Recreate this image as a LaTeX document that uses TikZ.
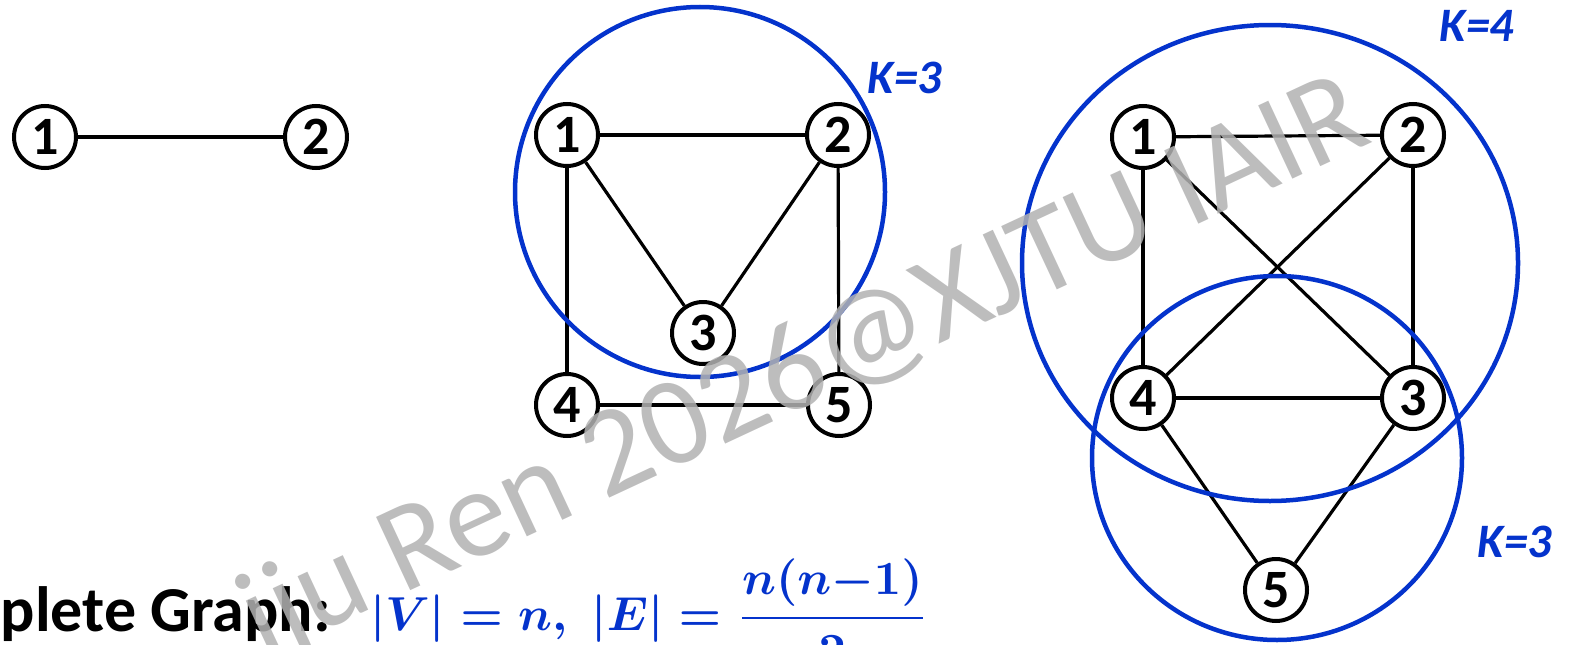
\documentclass[tikz,border=0pt]{standalone}
\usepackage{amsmath,amssymb}
\usepackage{fontspec}
\setmainfont{Carlito}
\usepackage{xcolor}
\usepackage{tikz}
\usetikzlibrary{positioning}
\definecolor{kBlue}{HTML}{0433CC}
\newsavebox{\cgbox}

\begin{document}
\sbox{\cgbox}{\resizebox{558pt}{!}{\color{kBlue}\boldmath$\lvert V\rvert = n,\;\lvert E\rvert = \dfrac{n(n{-}1)}{2}$}}
\begin{tikzpicture}[
  x=1pt, y=-1pt,
  vtx/.style={circle, draw=black, line width=4pt, minimum size=62pt, inner sep=0pt,
              font=\fontsize{54}{60}\selectfont\bfseries},
  edge/.style={draw=black, line width=3.2pt},
  ring/.style={draw=kBlue, line width=4.5pt},
  klab/.style={text=kBlue, font=\fontsize{48}{56}\selectfont\bfseries\itshape},
  node distance=204pt,
]
\useasboundingbox (0,0) rectangle (1569,645);

% two vertices
\node[vtx] (a1) at (45,137) {1};
\node[vtx, right=205pt of a1] (a2) {2};
\draw[edge] (a1) -- (a2);

% five vertices, one triangle
\node[vtx] (b1) at (567,135) {1};
\node[vtx, right=205pt of b1] (b2) {2};
\node[vtx, below=204pt of b1] (b4) {4};
\node[vtx, right=206pt of b4] (b5) {5};
\node[vtx] (b3) at (703,333) {3};
\draw[edge] (b1) -- (b2);
\draw[edge] (b1) -- (b3);
\draw[edge] (b2) -- (b3);
\draw[edge] (b1) -- (b4);
\draw[edge] (b2) -- (b5);
\draw[edge] (b4) -- (b5);
\draw[ring] (700,192) circle [radius=185];
\node[klab] (kb) at (905,78) {K=3};

% five vertices, K4 plus one
\node[vtx] (c1) at (1143,137) {1};
\node[vtx] (c2) at (1413,135) {2};
\node[vtx, below=195pt of c1] (c4) {4};
\node[vtx, right=204pt of c4] (c3) {3};
\node[vtx] (c5) at (1276,590) {5};
\draw[edge] (c1) -- (c2);
\draw[edge] (c1) -- (c4);
\draw[edge] (c2) -- (c3);
\draw[edge] (c1) -- (c3);
\draw[edge] (c2) -- (c4);
\draw[edge] (c4) -- (c3);
\draw[edge] (c4) -- (c5);
\draw[edge] (c3) -- (c5);
\draw[ring] (1270,263) ellipse [x radius=248, y radius=238];
\draw[ring] (1277,458) ellipse [x radius=185, y radius=182];
\node[klab] (kc4) at (1477,26) {K=4};
\node[klab] (kc3) at (1515,542) {K=3};

% caption
\node[anchor=base east, inner sep=0pt, font=\fontsize{64}{70}\selectfont\bfseries] (ttl) at (331,631) {Complete Graph:};
\node[anchor=base west, inner sep=0pt] (fml) at (370,630) {\usebox{\cgbox}};

% watermark
\node[rotate=25, anchor=base east, text=black!30, text opacity=0.85,
      font=\fontsize{126}{134}\selectfont] (wm) at (1378,140) {iju Ren 2026@XJTU IAIR};
\end{tikzpicture}
\end{document}
